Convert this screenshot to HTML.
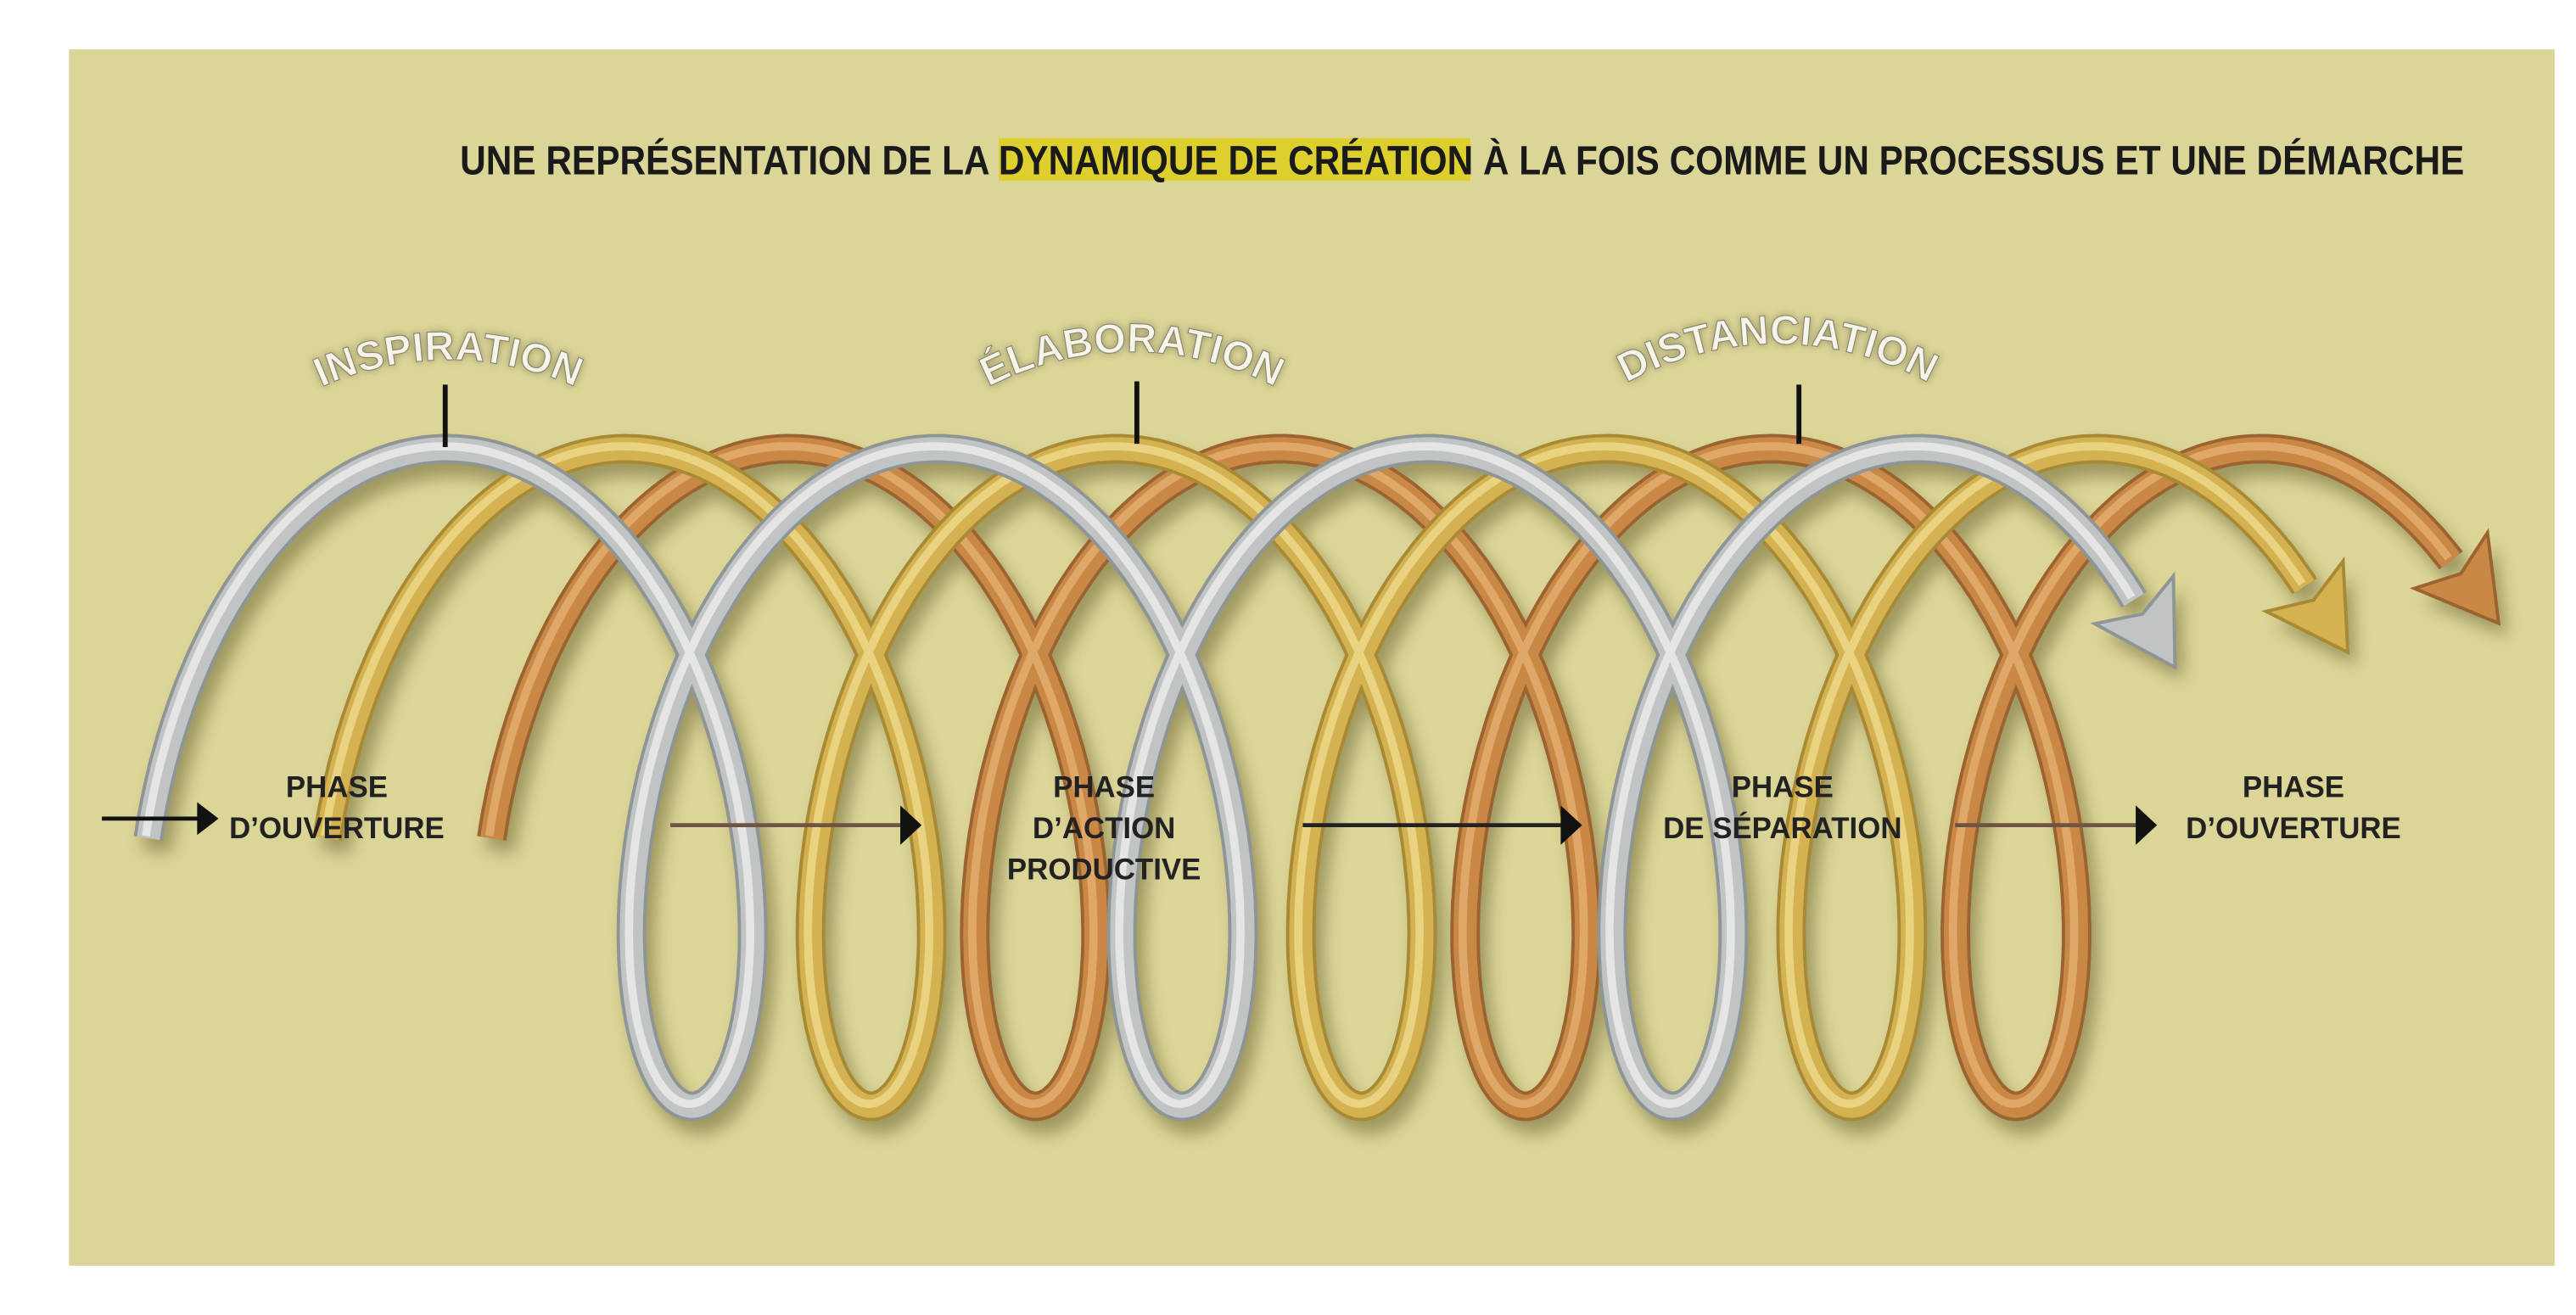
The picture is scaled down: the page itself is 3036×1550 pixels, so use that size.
<!DOCTYPE html>
<html><head><meta charset="utf-8"><style>
html,body{margin:0;padding:0;background:#fff;}
svg{display:block;}
</style></head><body>
<svg id="s" width="3036" height="1550" viewBox="0 0 1568 800" preserveAspectRatio="none" xmlns="http://www.w3.org/2000/svg">
<defs>
<filter id="blur" x="-10%" y="-10%" width="120%" height="120%"><feGaussianBlur stdDeviation="5"/></filter>
<filter id="tblur" x="-10%" y="-30%" width="120%" height="160%"><feGaussianBlur stdDeviation="2.5"/></filter>
</defs>
<rect x="0" y="0" width="1568" height="800" fill="#ffffff"/>
<rect x="42" y="30" width="1513" height="740" fill="#dcd598"/>
<rect x="608" y="84" width="287" height="26" fill="#dccf2e"/>
<text x="280" y="106" textLength="1220" lengthAdjust="spacingAndGlyphs" font-family="'Liberation Sans Narrow','Liberation Sans',sans-serif" font-weight="bold" font-size="25" fill="#1a1a1a">UNE REPRÉSENTATION DE LA DYNAMIQUE DE CRÉATION À LA FOIS COMME UN PROCESSUS ET UNE DÉMARCHE</text>
<g id="coil"></g>
<g font-family="'Liberation Sans',sans-serif" font-weight="bold" font-size="25">
<path id="a1" d="M 166 252 A 190 190 0 0 1 380 252" fill="none"/>
<path id="a2" d="M 578 250 A 190 190 0 0 1 800 250" fill="none"/>
<path id="a3" d="M 962 252 A 190 190 0 0 1 1202 252" fill="none"/>
<g filter="url(#tblur)" fill="#6f6a45" opacity="0.7">
<text><textPath href="#a1" startOffset="50%" text-anchor="middle">INSPIRATION</textPath></text>
<text><textPath href="#a2" startOffset="50%" text-anchor="middle">ÉLABORATION</textPath></text>
<text><textPath href="#a3" startOffset="50%" text-anchor="middle">DISTANCIATION</textPath></text>
</g>
<g fill="#f7f5ea" stroke="#8a8770" stroke-width="0.6">
<text><textPath href="#a1" startOffset="50%" text-anchor="middle">INSPIRATION</textPath></text>
<text><textPath href="#a2" startOffset="50%" text-anchor="middle">ÉLABORATION</textPath></text>
<text><textPath href="#a3" startOffset="50%" text-anchor="middle">DISTANCIATION</textPath></text>
</g>
</g>
<g stroke="#111" stroke-width="3">
<line x1="271" y1="234" x2="271" y2="272"/>
<line x1="692" y1="232" x2="692" y2="270"/>
<line x1="1095" y1="234" x2="1095" y2="270"/>
</g>
<g stroke-width="2.5">
<line x1="62" y1="498" x2="122" y2="498" stroke="#111"/>
<line x1="408" y1="502" x2="550" y2="502" stroke="#6e5444"/>
<line x1="793" y1="502" x2="952" y2="502" stroke="#222"/>
<line x1="1190" y1="502" x2="1302" y2="502" stroke="#6e5444"/>
</g>
<g fill="#111">
<polygon points="120,488 133,498 120,508"/>
<polygon points="548,490 561,502 548,514"/>
<polygon points="950,490 963,502 950,514"/>
<polygon points="1300,490 1313,502 1300,514"/>
</g>
<g font-family="'Liberation Sans Narrow','Liberation Sans',sans-serif" font-weight="bold" font-size="18" fill="#222" text-anchor="middle">
<text x="205" y="485">PHASE</text><text x="205" y="510">D’OUVERTURE</text>
<text x="672" y="485">PHASE</text><text x="672" y="510">D’ACTION</text><text x="672" y="535">PRODUCTIVE</text>
<text x="1085" y="485">PHASE</text><text x="1085" y="510">DE SÉPARATION</text>
<text x="1396" y="485">PHASE</text><text x="1396" y="510">D’OUVERTURE</text>
</g>
</svg>
<script>
(function(){
var NS="http://www.w3.org/2000/svg";
var g=document.getElementById("coil");
var k=47.5,b=100,yc=473,d=200;
var strands=[
 {x0:481,t1:6*Math.PI+0.85,base:"#c98845",hi:"#e6b070",dk:"#9a6330"},
 {x0:381,t1:6*Math.PI+0.95,base:"#d4b251",hi:"#eed98c",dk:"#a98a34"},
 {x0:272,t1:6*Math.PI+1.0,base:"#c0c4c4",hi:"#eceeec",dk:"#8f9494"}
];
function pt(s,t){return [s.x0+k*t+b*Math.sin(t), yc-d*Math.cos(t)];}
function el(n,a){var e=document.createElementNS(NS,n);for(var i in a)e.setAttribute(i,a[i]);return e;}
var shadowG=el("g",{filter:"url(#blur)",opacity:"0.55"});g.appendChild(shadowG);
strands.forEach(function(s){
  var t0=-1.757, p=[];
  for(var t=t0;t<=s.t1;t+=0.02)p.push(pt(s,t));
  p.push(pt(s,s.t1));
  var dstr="M"+p.map(function(q){return q[0].toFixed(1)+" "+q[1].toFixed(1);}).join(" L");
  var e=p[p.length-1],e0=pt(s,s.t1-0.01);
  var dx=e[0]-e0[0],dy=e[1]-e0[1],L=Math.hypot(dx,dy);dx/=L;dy/=L;
  var nx=-dy,ny=dx,tip=[e[0]+dx*48,e[1]+dy*48];
  var tri=(e[0]+nx*28)+","+(e[1]+ny*28)+" "+tip[0]+","+tip[1]+" "+(e[0]-nx*28)+","+(e[1]-ny*28)+" "+(e[0]+dx*10)+","+(e[1]+dy*10);
  s.d=dstr;s.tri=tri;
  shadowG.appendChild(el("path",{d:dstr,fill:"none",stroke:"#6b6530","stroke-width":"18",transform:"translate(5,8)"}));
  shadowG.appendChild(el("polygon",{points:tri,fill:"#6b6530",transform:"translate(5,8)"}));
});
strands.forEach(function(s){
  g.appendChild(el("path",{d:s.d,fill:"none",stroke:s.dk,"stroke-width":"18"}));
  g.appendChild(el("path",{d:s.d,fill:"none",stroke:s.base,"stroke-width":"14"}));
  g.appendChild(el("path",{d:s.d,fill:"none",stroke:s.hi,"stroke-width":"5",transform:"translate(-1.5,-1.5)",opacity:"0.8"}));
  g.appendChild(el("polygon",{points:s.tri,fill:s.base,stroke:s.dk,"stroke-width":"2"}));
});
})();
</script>
</body></html>
